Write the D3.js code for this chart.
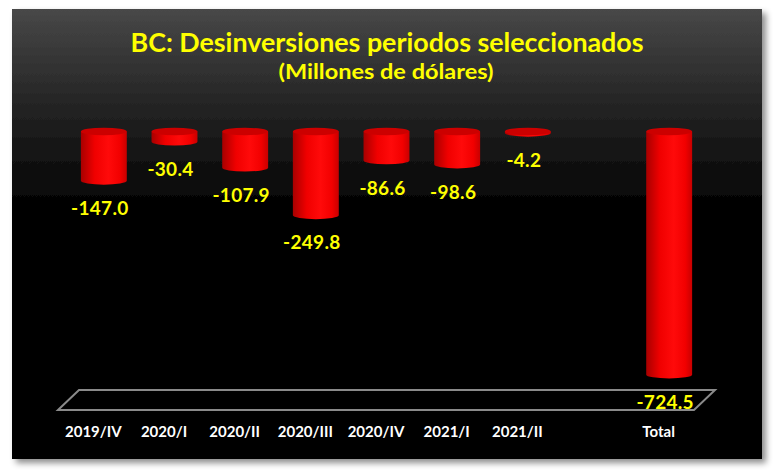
<!DOCTYPE html>
<html>
<head>
<meta charset="utf-8">
<script src="https://cdn.jsdelivr.net/npm/d3@7"></script>
<style>
  html, body { margin: 0; padding: 0; background: #fff; }
  svg { display: block; }
</style>
</head>
<body>
<div id="chart"></div>
<script>
// chart data (the empty slot before "Total" is part of the original layout)
const categories = ["2019/IV", "2020/I", "2020/II", "2020/III", "2020/IV", "2021/I", "2021/II", "", "Total"];
const values = [-147.0, -30.4, -107.9, -249.8, -86.6, -98.6, -4.2, null, -724.5];
const titleText = "BC: Desinversiones periodos seleccionados";
const subtitleText = "(Millones de dólares)";
const yMin = -800;

const width = 774, height = 474;
const depthX = 21, depthY = -20;   // 3d depth of the floor

const svg = d3.select("#chart").append("svg")
  .attr("width", width)
  .attr("height", height);

const defs = svg.append("defs");

// panel background
const bg = defs.append("linearGradient").attr("id", "bg")
  .attr("x1", 0).attr("y1", 0).attr("x2", 0).attr("y2", 1);
bg.append("stop").attr("offset", "0").attr("stop-color", "#484848");
bg.append("stop").attr("offset", "0.22").attr("stop-color", "#232323");
bg.append("stop").attr("offset", "0.46").attr("stop-color", "#000000");
bg.append("stop").attr("offset", "1").attr("stop-color", "#000000");

const shadow = defs.append("filter").attr("id", "shadow")
  .attr("x", "-5%").attr("y", "-5%").attr("width", "115%").attr("height", "115%");
shadow.append("feDropShadow")
  .attr("dx", 4).attr("dy", 4).attr("stdDeviation", 3)
  .attr("flood-color", "#000").attr("flood-opacity", 0.45);

// cylinder shading
const cyl = defs.append("linearGradient").attr("id", "cyl")
  .attr("x1", 0).attr("y1", 0).attr("x2", 1).attr("y2", 0);
cyl.append("stop").attr("offset", "0").attr("stop-color", "#a80000");
cyl.append("stop").attr("offset", "0.3").attr("stop-color", "#f00000");
cyl.append("stop").attr("offset", "0.6").attr("stop-color", "#ff0a0a");
cyl.append("stop").attr("offset", "0.85").attr("stop-color", "#f20000");
cyl.append("stop").attr("offset", "1").attr("stop-color", "#c80000");

svg.append("rect")
  .attr("x", 12).attr("y", 9)
  .attr("width", 750).attr("height", 450)
  .attr("fill", "url(#bg)")
  .attr("filter", "url(#shadow)");

// titles
svg.append("text")
  .attr("x", 387).attr("y", 52)
  .attr("text-anchor", "middle")
  .attr("textLength", 513).attr("lengthAdjust", "spacingAndGlyphs")
  .attr("font-family", "Lato, 'Open Sans', sans-serif")
  .attr("font-weight", "bold").attr("font-size", 26)
  .attr("fill", "#ffff00")
  .text(titleText);

svg.append("text")
  .attr("x", 386).attr("y", 79)
  .attr("text-anchor", "middle")
  .attr("textLength", 215).attr("lengthAdjust", "spacingAndGlyphs")
  .attr("font-family", "Lato, 'Open Sans', sans-serif")
  .attr("font-weight", "bold").attr("font-size", 21)
  .attr("fill", "#ffff00")
  .text(subtitleText);

// scales (front plane of the 3d floor)
const x = d3.scaleBand()
  .domain(d3.range(categories.length))
  .range([58, 694])
  .paddingInner(0);

const y = d3.scaleLinear()
  .domain([yMin, 0])
  .range([400, 131.5]);

const mid = i => x(i) + x.bandwidth() / 2 + depthX / 2;

// floor
const fy = y(yMin);
const fx0 = x.range()[0], fx1 = x.range()[1];
svg.append("path")
  .attr("d", `M${fx0},${fy - depthY / 2} L${fx0 + depthX},${fy + depthY / 2} L${fx1 + depthX},${fy + depthY / 2} L${fx1},${fy - depthY / 2} Z`)
  .attr("fill", "none")
  .attr("stroke", "#8a8a8a")
  .attr("stroke-width", 2);

// cylinders
const rx = x.bandwidth() * 0.325;
const ry = 3.8;
const bars = svg.append("g").selectAll("g")
  .data(values.map((v, i) => ({v, i})).filter(d => d.v !== null))
  .enter().append("g");

bars.append("path")
  .attr("d", d => {
    const cx = mid(d.i), y0 = y(0), y1 = y(d.v);
    return `M${cx - rx},${y0} L${cx - rx},${y1} A${rx},${ry} 0 0 0 ${cx + rx},${y1} L${cx + rx},${y0} Z`;
  })
  .attr("fill", "url(#cyl)");

bars.append("ellipse")
  .attr("cx", d => mid(d.i))
  .attr("cy", y(0))
  .attr("rx", rx).attr("ry", ry)
  .attr("fill", "#cc0000");

// value labels
bars.append("text")
  .attr("x", d => mid(d.i) - 4)
  .attr("y", d => y(d.v) + 34)
  .attr("text-anchor", "middle")
  .attr("font-family", "Lato, 'Open Sans', sans-serif")
  .attr("font-weight", "bold").attr("font-size", 19)
  .attr("letter-spacing", 0.3)
  .attr("fill", "#ffff00")
  .text(d => d3.format(".1f")(d.v).replace("\u2212", "-"));

// category axis
const axis = svg.append("g")
  .attr("transform", `translate(0,${fy + 37})`)
  .call(d3.axisBottom(x).tickSize(0).tickFormat(i => categories[i]));
axis.select(".domain").remove();
axis.selectAll("text")
  .attr("y", 0).attr("dy", 0)
  .attr("fill", "#fff")
  .attr("font-family", "Lato, 'Open Sans', sans-serif")
  .attr("font-weight", "bold").attr("font-size", 15);
</script>
</body>
</html>
